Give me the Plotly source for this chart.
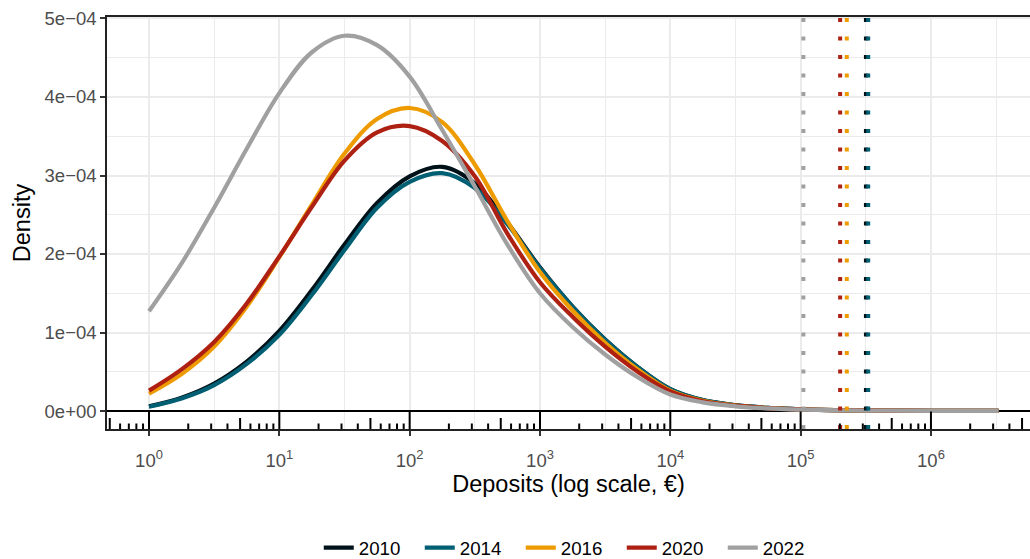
import plotly.graph_objects as go

# ---------------- data ----------------
# deposit amounts (EUR) at which the density curves were read
deposits = [1, 1.778, 3.162, 5.623, 10, 17.78, 31.62, 56.23, 100, 177.8, 316.2, 562.3,
            1000, 1778, 3162, 5623, 10000, 17783, 31623, 56234, 100000, 316228,
            1000000, 3300000]

years = ["2010", "2014", "2016", "2020", "2022"]
colors = ["#001219", "#005f73", "#ee9b00", "#ae2012", "#a0a0a0"]

SCALE = 1e-4  # densities below are in units of 1e-4
density_2010 = [0.06, 0.17, 0.35, 0.63, 1.02, 1.54, 2.12, 2.65, 2.99, 3.11, 2.90, 2.40,
                1.83, 1.33, 0.91, 0.56, 0.28, 0.14, 0.075, 0.04, 0.022, 0.008, 0.003, 0.001]
density_2014 = [0.055, 0.16, 0.33, 0.60, 0.97, 1.48, 2.05, 2.59, 2.92, 3.03, 2.84, 2.38,
                1.82, 1.33, 0.91, 0.56, 0.28, 0.14, 0.075, 0.04, 0.022, 0.008, 0.003, 0.001]
density_2016 = [0.22, 0.47, 0.82, 1.33, 1.96, 2.63, 3.28, 3.72, 3.86, 3.68, 3.14, 2.42,
                1.77, 1.28, 0.87, 0.53, 0.26, 0.13, 0.07, 0.038, 0.02, 0.007, 0.003, 0.001]
density_2020 = [0.26, 0.53, 0.88, 1.37, 1.97, 2.60, 3.19, 3.55, 3.63, 3.44, 2.99, 2.26,
                1.64, 1.20, 0.82, 0.50, 0.25, 0.125, 0.068, 0.037, 0.02, 0.007, 0.003, 0.001]
density_2022 = [1.27, 1.88, 2.59, 3.34, 4.05, 4.57, 4.78, 4.66, 4.26, 3.58, 2.86, 2.12,
                1.50, 1.07, 0.72, 0.43, 0.21, 0.11, 0.06, 0.033, 0.018, 0.006, 0.002, 0.001]
densities = [density_2010, density_2014, density_2016, density_2020, density_2022]

# per-year vertical reference values (EUR)
thresholds = [317000, 330000, 226000, 201000, 105000]

x_tick_vals = [1, 10, 100, 1000, 10000, 100000, 1000000]
x_tick_text = ["10<sup>0</sup>", "10<sup>1</sup>", "10<sup>2</sup>", "10<sup>3</sup>",
               "10<sup>4</sup>", "10<sup>5</sup>", "10<sup>6</sup>"]
y_tick_vals = [0, 1e-4, 2e-4, 3e-4, 4e-4, 5e-4]
y_tick_text = ["0e+00", "1e\u221204", "2e\u221204", "3e\u221204", "4e\u221204", "5e\u221204"]

# ---------------- layout constants ----------------
W, H = 1030, 559
M_L, M_R, M_T, M_B = 107, 0, 17, 130
X_RANGE = [-0.3223, 6.760]          # log10 units
Y_RANGE = [-0.229e-4, 5.019e-4]
plot_h = H - M_T - M_B
px_to_y = (Y_RANGE[1] - Y_RANGE[0]) / plot_h

FONT = "Liberation Sans, Arial, Helvetica, sans-serif"

fig = go.Figure()

# density curves
for yr, col, dens in zip(years, colors, densities):
    fig.add_trace(go.Scatter(
        x=deposits, y=[d * SCALE for d in dens], mode="lines", name=yr,
        line=dict(color=col, width=4.2, shape="spline", smoothing=1.0),
        hoverinfo="skip"))

# dotted vertical reference lines
for yr, col, t in zip(years, colors, thresholds):
    fig.add_trace(go.Scatter(
        x=[t, t], y=[Y_RANGE[0], Y_RANGE[1]], mode="lines", showlegend=False,
        line=dict(color=col, width=4, dash="4px,14.5px"), hoverinfo="skip"))

# log ticks along the bottom of the panel (annotation_logticks style)
lo, hi = 10 ** X_RANGE[0], 10 ** X_RANGE[1]
tick_sets = {"long": ([], 17.5), "mid": ([], 11), "short": ([], 5.5)}
for dec in range(-1, 7):
    for m in range(1, 10):
        v = m * 10 ** dec
        if v < lo or v > hi:
            continue
        key = "long" if m == 1 else ("mid" if m == 5 else "short")
        tick_sets[key][0].append(v)
for key, (vals, plen) in tick_sets.items():
    xs, ys = [], []
    for v in vals:
        xs += [v, v, None]
        ys += [Y_RANGE[0], Y_RANGE[0] + plen * px_to_y, None]
    fig.add_trace(go.Scatter(x=xs, y=ys, mode="lines", showlegend=False,
                             line=dict(color="black", width=2), hoverinfo="skip"))

minor_x = [10 ** (k + 0.5) for k in range(0, 7)]

fig.update_layout(
    width=W, height=H,
    margin=dict(l=M_L, r=M_R, t=M_T, b=M_B, pad=0, autoexpand=False),
    plot_bgcolor="white", paper_bgcolor="white",
    font=dict(family=FONT, color="black"),
    showlegend=True,
    legend=dict(orientation="h", x=0.503, xanchor="center", y=-0.2888, yanchor="middle",
                font=dict(size=18.7, color="black"), entrywidth=56, entrywidthmode="pixels",
                bgcolor="rgba(0,0,0,0)", traceorder="normal"),
    xaxis=dict(
        type="log", range=X_RANGE, tickmode="array", tickvals=x_tick_vals, ticktext=x_tick_text,
        ticks="outside", ticklen=5, tickwidth=1.5, tickcolor="#333333",
        tickfont=dict(size=18.5, color="#4d4d4d"), ticklabelstandoff=9,
        showline=True, linecolor="#222222", linewidth=1.5, mirror=True,
        showgrid=True, gridcolor="#ebebeb", gridwidth=2,
        minor=dict(tickmode="array", tickvals=minor_x, showgrid=True,
                   gridcolor="#ebebeb", gridwidth=1.2, ticks=""),
        zeroline=False,
        title=dict(text="Deposits (log scale, \u20ac)", font=dict(size=23.5, color="black"), standoff=3),
    ),
    yaxis=dict(
        range=Y_RANGE, tickmode="array", tickvals=y_tick_vals, ticktext=y_tick_text,
        ticks="outside", ticklen=5, tickwidth=1.5, tickcolor="#333333",
        tickfont=dict(size=18.5, color="#4d4d4d"),
        showline=True, linecolor="#222222", linewidth=1.5, mirror=False,
        showgrid=True, gridcolor="#ebebeb", gridwidth=2,
        minor=dict(tick0=0, dtick=0.5e-4, showgrid=True, gridcolor="#ebebeb",
                   gridwidth=1.2, ticks=""),
        zeroline=True, zerolinecolor="black", zerolinewidth=2,
        title=dict(text="Density", font=dict(size=23.5, color="black"), standoff=7),
    ),
)

fig.write_html("out.html")
